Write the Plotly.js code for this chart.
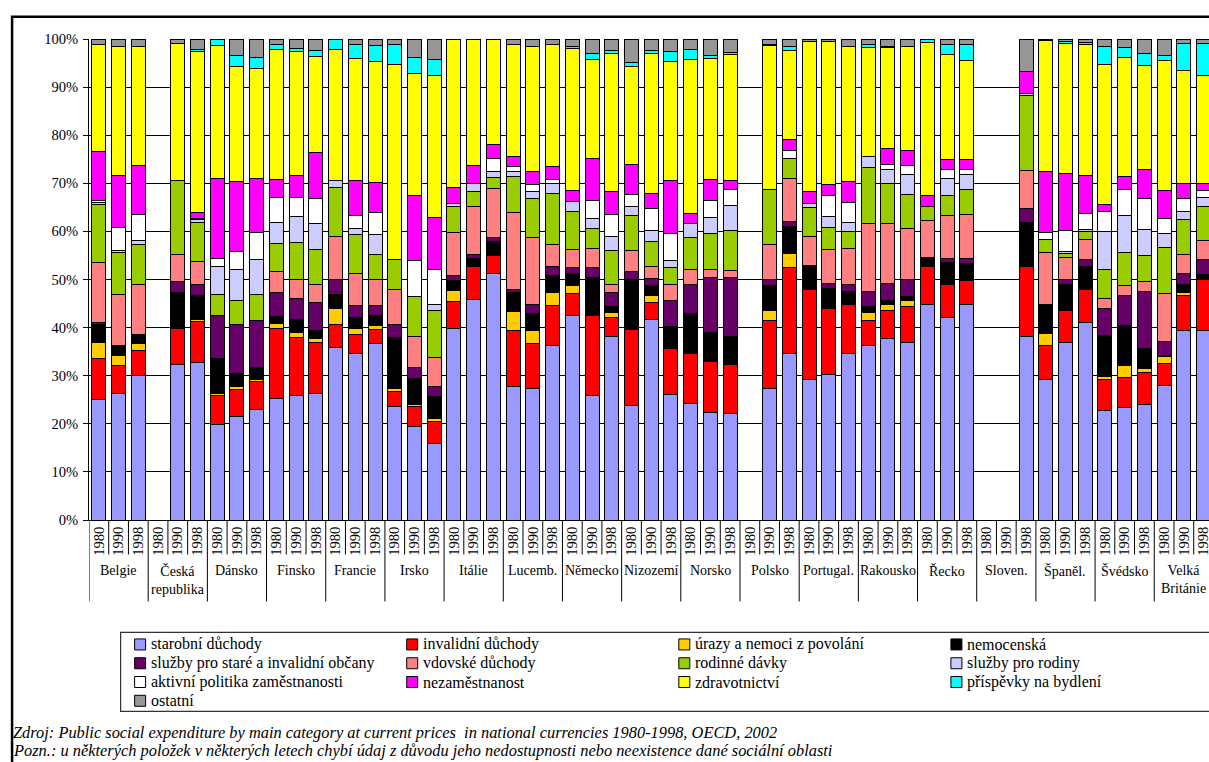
<!DOCTYPE html>
<html><head><meta charset="utf-8">
<script src="https://cdn.plot.ly/plotly-3.0.1.min.js"></script>
<style>html,body{margin:0;padding:0;background:#fff}</style>
</head><body><div id="chart" style="width:1209px;height:762px"></div>
<script>
const countries = ['Belgie','Česká republika','Dánsko','Finsko','Francie','Irsko','Itálie','Lucemb.','Německo','Nizozemí','Norsko','Polsko','Portugal.','Rakousko','Řecko','Sloven.','Španěl.','Švédsko','Velká Británie'];
const countryLabels = ['Belgie','Česká<br>republika','Dánsko','Finsko','Francie','Irsko','Itálie','Lucemb.','Německo','Nizozemí','Norsko','Polsko','Portugal.','Rakousko','Řecko','Sloven.','Španěl.','Švédsko','Velká<br>Británie'];
const years = ['1980','1990','1998'];

const starobni = [25.1,26.2,30.0, null,32.3,32.7, 19.8,21.5,22.9, 25.2,25.8,26.2, 35.9,34.6,36.6, 23.6,19.5,16.0, 39.9,45.8,51.2, 27.8,27.3,36.2, 42.5,25.8,38.2, 23.8,41.6,26.0, 24.3,22.4,22.1, null,27.4,34.7, 29.3,30.3,34.6, 36.3,37.8,37.0, 44.7,42.0,44.9, null,null,38.2, 29.2,37.0,41.1, 22.8,23.3,24.0, 27.9,39.4,39.5];
const invalidni = [8.6,5.9,5.3, null,7.6,8.6, 6.0,5.7,5.9, 14.7,12.1,10.7, 4.7,3.9,3.1, 3.1,4.1,4.5, 5.5,6.9,3.8, 11.7,9.3,8.3, 4.5,16.7,3.8, 15.9,3.6,9.7, 10.3,10.6,10.2, null,14.2,17.7, 18.6,13.6,10.3, 5.1,5.7,7.4, 8.0,7.0,4.9, null,null,14.4, 7.0,6.5,6.8, 6.5,6.4,6.7, 4.7,7.3,10.4];
const urazy = [3.3,2.0,1.4, null,0,0.3, 0.4,0.6,0.5, 0.9,1.0,0.8, 3.3,1.4,0.7, 0.6,0.5,0.5, 2.3,0,0, 3.9,2.9,2.8, 1.8,0,1.2, 0,1.4,0, 0,0,0, null,2.1,3.1, 0,0,0, 1.8,1.4,1.2, 0,0,0, null,null,0, 2.5,0,0, 0.5,2.4,0.9, 1.3,0.5,0];
const nemocenska = [3.7,2.2,1.6, null,7.5,5.0, 7.3,2.7,2.5, 1.5,2.7,1.8, 3.0,2.3,2.1, 10.6,5.4,4.7, 2.1,1.6,3.0, 3.8,3.4,3.5, 2.4,8.0,1.2, 10.2,2.1,4.5, 8.4,5.9,5.9, null,5.1,5.5, 5.1,4.2,2.7, 1.2,0.7,0.9, 1.9,4.5,3.6, null,null,9.3, 6.2,5.5,4.9, 8.5,8.3,4.1, 0.3,1.7,1.2];
const sluzbyStari = [0.3,0,0.3, null,2.2,2.4, 9.0,10.2,9.7, 4.9,4.5,5.7, 3.0,2.4,2.1, 2.8,2.3,2.1, 1.0,0.8,0.7, 0.8,1.8,2.0, 1.2,1.9,2.8, 1.8,1.6,5.4, 6.0,11.6,12.3, null,1.3,1.0, 0,1.1,1.3, 3.1,3.6,3.4, 0,0.9,1.0, null,null,2.9, 0,0.9,1.4, 5.7,6.2,11.8, 2.9,2.4,3.0];
const vdovske = [12.6,10.5,10.3, null,5.5,4.7, 0,0,0, 4.5,4.0,3.7, 9.0,6.7,5.5, 7.2,6.4,5.9, 9.0,10.1,10.3, 16.0,14.0,4.4, 3.9,4.1,1.8, 4.3,2.3,3.4, 3.0,1.6,1.3, null,7.3,9.1, 5.9,7.0,7.6, 14.1,12.4,10.7, 7.6,9.0,9.2, null,null,7.8, 10.7,4.7,4.2, 2.1,2.2,2.1, 9.9,4.0,4.0];
const rodinne = [12.0,8.9,8.4, null,15.5,8.2, 4.3,4.9,5.3, 5.8,7.6,7.3, 10.3,8.0,5.0, 6.2,8.3,9.8, 5.4,3.1,2.2, 7.5,8.2,10.7, 7.8,4.2,7.0, 7.3,5.4,3.4, 6.8,7.4,8.4, null,11.3,4.1, 6.1,4.7,3.5, 11.7,8.3,7.1, 3.0,4.0,5.2, null,null,15.6, 2.8,0.9,1.6, 6.0,6.9,5.4, 9.7,7.1,7.1];
const sluzbyRodiny = [0.5,0.3,0.8, null,0,0.5, 6.0,6.4,7.3, 4.4,5.4,5.4, 1.3,1.2,4.3, 0,0,1.2, 0.7,1.6,1.2, 0.9,1.4,2.0, 2.1,2.0,2.9, 1.9,2.1,1.5, 2.9,3.4,5.1, null,0,0, 0.7,2.2,1.9, 2.3,2.9,4.2, 0,3.7,3.1, null,null,0.5, 0,0.3,0.5, 7.9,7.6,5.3, 2.9,1.7,1.9];
const aktivni = [0.4,4.9,5.5, null,0,0.3, 1.6,3.8,5.7, 5.2,4.0,5.3, 0,2.9,4.5, 0,7.4,7.3, 0,0,2.7, 1.0,1.4,0.8, 0,3.7,4.7, 2.4,4.6,5.7, 0,3.5,3.5, null,0,1.7, 0,4.3,4.1, 0,1.2,1.7, 0,1.7,0.9, null,null,0, 1.4,4.3,3.3, 4.1,5.5,6.5, 3.1,2.8,1.4];
const nezamestnanost = [10.2,10.7,10.0, null,0,1.2, 16.7,14.6,11.3, 3.6,4.6,9.6, 0,7.1,6.2, 0,13.5,10.9, 3.3,3.7,2.9, 2.2,2.7,2.8, 2.3,8.8,4.8, 6.4,3.1,10.9, 2.1,4.4,1.8, null,0,2.3, 2.7,2.4,4.4, 0,3.3,3.3, 2.2,2.1,2.2, null,null,4.5, 12.6,12.0,7.9, 1.4,2.7,6.0, 5.9,3.1,1.4];
const zdravotnictvi = [22.2,26.9,24.9, null,28.4,33.6, 27.5,23.8,22.8, 27.2,25.7,19.9, 27.4,25.5,25.3, 40.5,25.4,29.6, 30.8,26.4,21.9, 23.3,26.0,25.3, 29.6,20.6,28.6, 20.3,29.2,24.9, 32.0,25.2,26.1, null,30.0,18.5, 31.0,29.6,28.1, 22.6,20.9,21.6, 31.9,21.8,20.6, null,null,0, 27.2,27.0,27.1, 29.1,24.6,21.6, 27.0,23.4,22.6];
const bydleni = [0,0,0, null,0,0.4, 1.4,2.3,2.3, 1.0,0.7,1.3, 2.1,2.8,3.2, 4.3,3.3,3.3, 0,0,0, 0,0.1,0.1, 0.4,1.1,0.7, 0.9,0.7,2.0, 2.1,0.5,0.5, null,0.2,0.7, 0,0,0, 0.6,0.3,0, 0.5,2.2,3.3, null,null,0, 0,0.3,0.5, 3.8,2.1,2.6, 0.9,5.7,6.6];
const ostatni = [1.2,1.5,1.5, null,1.0,2.1, 0,3.5,3.8, 1.1,1.9,2.3, 0,1.2,1.4, 1.1,3.9,4.2, 0,0,0.1, 1.1,1.5,1.1, 1.5,3.1,2.3, 4.8,2.3,2.6, 2.1,3.5,2.8, null,1.2,1.6, 0.6,0.6,1.5, 1.2,1.5,1.5, 0.2,1.1,1.1, null,null,6.8, 0.4,0.6,0.7, 1.6,1.8,3.0, 3.5,0.9,0.9];

const seriesNames = ['starobní důchody','invalidní důchody','úrazy a nemoci z povolání','nemocenská','služby pro staré a invalidní občany','vdovské důchody','rodinné dávky','služby pro rodiny','aktivní politika zaměstnanosti','nezaměstnanost','zdravotnictví','příspěvky na bydlení','ostatní'];
const seriesColors = ['#9999FF','#FF0000','#FFCC00','#000000','#660066','#FF8080','#99CC00','#CCCCFF','#FFFFFF','#FF00FF','#FFFF00','#00FFFF','#969696'];
const seriesValues = [starobni,invalidni,urazy,nemocenska,sluzbyStari,vdovske,rodinne,sluzbyRodiny,aktivni,nezamestnanost,zdravotnictvi,bydleni,ostatni];

const footnote1 = 'Zdroj: Public social expenditure by main category at current prices  in national currencies 1980-1998, OECD, 2002';
const footnote2 = 'Pozn.: u některých položek v některých letech chybí údaj z důvodu jeho nedostupnosti nebo neexistence dané sociální oblasti';

// layout geometry (pixels)
const W = 1209, H = 762;
const L = 89.4, T = 39.3, B = 520.5, R = 1209;
const SLOT = 19.72;
const PW = R - L, PH = B - T;
const px = x => (x - L) / PW;
const py = y => (B - y) / PH;
const FONT = '"Liberation Serif", "Times New Roman", Times, serif';

const keys = [];
countries.forEach(c => years.forEach(y => keys.push(c + ' ' + y)));
const tickText = keys.map((k, i) => years[i % years.length]);

const traces = seriesValues.map((v, i) => ({
  type: 'bar', name: seriesNames[i], x: keys, y: v,
  marker: {color: seriesColors[i], line: {color: '#000', width: 1}},
  hovertemplate: '%{x}: %{y:.1f}%<extra>' + seriesNames[i] + '</extra>'
}));

const shapes = [];
for (let i = 0; i <= keys.length; i++) {
  const isGroup = i % years.length === 0;
  shapes.push({type: 'line', xref: 'x', yref: 'paper', x0: i - 0.5, x1: i - 0.5,
    y0: 0, y1: py(isGroup ? 602 : 555), line: {color: '#000', width: 1}});
}
// outer frame
shapes.push({type: 'rect', xref: 'paper', yref: 'paper', x0: px(12.5), x1: px(1240), y0: py(17), y1: py(800),
  line: {color: '#000', width: 2.5}, fillcolor: 'rgba(0,0,0,0)', layer: 'above'});

const annotations = countryLabels.map((lab, g) => ({
  xref: 'x', yref: 'paper', x: keys[g * years.length + 1], y: py(562), yanchor: 'top', xanchor: 'center',
  text: lab, showarrow: false, font: {family: FONT, size: 14, color: '#000'}
}));

// legend box (4 columns, row-wise in series order)
const LEG = {left: 121, top: 633, bottom: 712, col0: 135, colStep: 272, row0: 645, rowStep: 18.8, sq: 11};
shapes.push({type: 'rect', xref: 'paper', yref: 'paper', x0: px(LEG.left), x1: px(1240), y0: py(LEG.top), y1: py(LEG.bottom),
  line: {color: '#333', width: 1.2}, fillcolor: '#fff', layer: 'above'});
seriesNames.forEach((name, i) => {
  const col = i % 4, row = Math.floor(i / 4);
  const x0 = LEG.col0 + col * LEG.colStep, yc = LEG.row0 + row * LEG.rowStep;
  shapes.push({type: 'rect', xref: 'paper', yref: 'paper', x0: px(x0), x1: px(x0 + LEG.sq),
    y0: py(yc - LEG.sq / 2), y1: py(yc + LEG.sq / 2), line: {color: '#000', width: 1}, fillcolor: seriesColors[i], layer: 'above'});
  annotations.push({xref: 'paper', yref: 'paper', x: px(x0 + LEG.sq + 3), y: py(yc), xanchor: 'left', yanchor: 'middle',
    text: name, showarrow: false, font: {family: FONT, size: 16, color: '#000'}});
});

annotations.push({xref: 'paper', yref: 'paper', x: px(11), y: py(733), xanchor: 'left', yanchor: 'middle',
  text: '<i>' + footnote1 + '</i>', showarrow: false, font: {family: FONT, size: 16.4, color: '#000'}});
annotations.push({xref: 'paper', yref: 'paper', x: px(11), y: py(751), xanchor: 'left', yanchor: 'middle',
  text: '<i>' + footnote2 + '</i>', showarrow: false, font: {family: FONT, size: 16.4, color: '#000'}});

const layout = {
  width: W, height: H,
  margin: {l: L, r: W - R, t: T, b: H - B, pad: 0, autoexpand: false},
  paper_bgcolor: '#fff', plot_bgcolor: '#fff',
  font: {family: FONT, size: 14, color: '#000'},
  barmode: 'stack', barnorm: 'percent', bargap: 0.29,
  showlegend: false,
  xaxis: {type: 'category', categoryorder: 'array', categoryarray: keys,
    range: [-0.5, -0.5 + PW / SLOT], tickmode: 'array', tickvals: keys, ticktext: tickText,
    tickangle: -90, ticks: '', showline: true, linecolor: '#000', linewidth: 1,
    showgrid: false, zeroline: false, tickfont: {family: FONT, size: 14.5, color: '#000'}, fixedrange: true},
  yaxis: {range: [0, 100], dtick: 10, ticksuffix: '%', ticks: 'outside', ticklen: 5, tickcolor: '#000',
    ticklabelstandoff: 2,
    showline: true, linecolor: '#000', linewidth: 1, showgrid: true, gridcolor: '#000', gridwidth: 1,
    zeroline: false, tickfont: {family: FONT, size: 14.5, color: '#000'}, fixedrange: true},
  shapes: shapes,
  annotations: annotations
};

Plotly.newPlot('chart', traces, layout, {displayModeBar: false});
</script>
</body></html>
